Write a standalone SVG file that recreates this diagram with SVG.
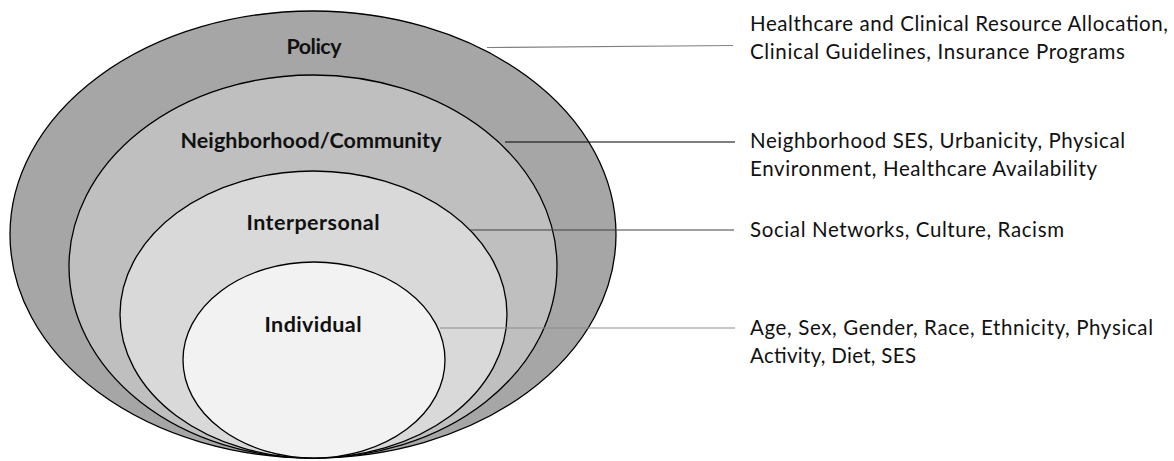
<svg xmlns="http://www.w3.org/2000/svg" width="1174" height="461" viewBox="0 0 1174 461">
  <style>
    .ring { stroke: #000; stroke-width: 1.3; }
    .lvl { font-family: Lato, "Liberation Sans", sans-serif; font-weight: bold; font-size: 21.5px; fill: #111; text-anchor: middle; }
    .desc { font-family: Lato, "Liberation Sans", sans-serif; font-size: 20.5px; fill: #111; }
    .link { fill: none; stroke-width: 1.2; }
  </style>
  <rect width="1174" height="461" fill="#fff"/>

  <!-- nested levels, all sharing the bottom point -->
  <g id="policy">
    <ellipse class="ring" cx="313" cy="234.5" rx="303" ry="223.5" fill="#a6a6a6"/>
    <text class="lvl" x="314" y="54" textLength="55">Policy</text>
  </g>
  <g id="community">
    <ellipse class="ring" cx="313" cy="266.5" rx="244" ry="191.5" fill="#bfbfbf"/>
    <text class="lvl" x="311" y="148" textLength="261">Neighborhood/Community</text>
  </g>
  <g id="interpersonal">
    <ellipse class="ring" cx="313.5" cy="314.5" rx="193.5" ry="143.5" fill="#d9d9d9"/>
    <text class="lvl" x="313" y="230" textLength="133">Interpersonal</text>
  </g>
  <g id="individual">
    <ellipse class="ring" cx="314" cy="360" rx="131" ry="98" fill="#f2f2f2"/>
    <text class="lvl" x="313" y="332" textLength="97">Individual</text>
  </g>

  <!-- leader lines to the factor lists -->
  <g id="connectors">
    <line class="link" x1="487" y1="47.5" x2="733" y2="45.5" stroke="#808080"/>
    <line class="link" x1="505" y1="142" x2="735" y2="142" stroke="#000"/>
    <line class="link" x1="470" y1="230" x2="734" y2="230" stroke="#404040"/>
    <line class="link" x1="440" y1="328" x2="735" y2="328" stroke="#8c8c8c"/>
  </g>

  <g id="factors">
    <text class="desc" x="750" y="31" textLength="418">Healthcare and Clinical Resource Allocation,</text>
    <text class="desc" x="750" y="59" textLength="375">Clinical Guidelines, Insurance Programs</text>
    <text class="desc" x="750" y="148" textLength="375">Neighborhood SES, Urbanicity, Physical</text>
    <text class="desc" x="750" y="176" textLength="347">Environment, Healthcare Availability</text>
    <text class="desc" x="750" y="237" textLength="314">Social Networks, Culture, Racism</text>
    <text class="desc" x="750" y="335" textLength="403">Age, Sex, Gender, Race, Ethnicity, Physical</text>
    <text class="desc" x="750" y="363" textLength="166">Activity, Diet, SES</text>
  </g>
</svg>
